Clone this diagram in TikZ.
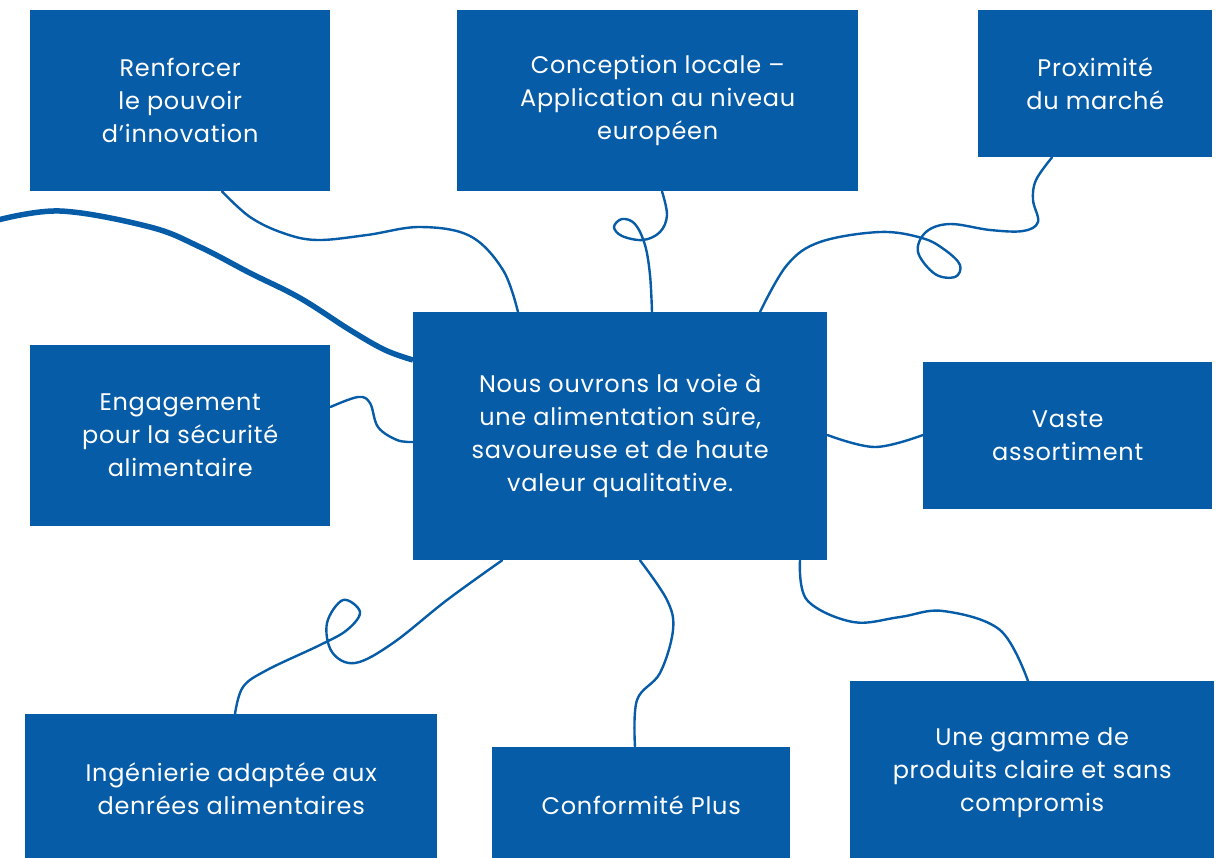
\documentclass[tikz,border=0pt]{standalone}
\usepackage{fontspec}
\setmainfont{Poppins}[LetterSpace=3]
\definecolor{brand}{RGB}{7,92,168}
\begin{document}
\begin{tikzpicture}[x=1pt,y=-1pt,
  box/.style={fill=brand,text=white,anchor=north west,inner sep=0pt,align=center,
    font=\fontsize{24}{33}\selectfont},
  wire/.style={draw=brand,line width=2.4pt,line cap=round},
  thick wire/.style={draw=brand,line width=5.5pt}]
\useasboundingbox (0,0) rectangle (1223,857);
\clip (0,0) rectangle (1223,857);
\node[box,minimum width=300pt,minimum height=181pt] (b1) at (30,10) {Renforcer\\le pouvoir\\d’innovation};
\node[box,minimum width=401pt,minimum height=181pt] (b2) at (457,10) {Conception locale –\\Application au niveau\\européen};
\node[box,minimum width=234pt,minimum height=147pt] (b3) at (978,10) {Proximité\\du marché};
\node[box,minimum width=414pt,minimum height=248pt] (c) at (413,312) {Nous ouvrons la voie à\\une alimentation sûre,\\savoureuse et de haute\\valeur qualitative.};
\node[box,minimum width=300pt,minimum height=181pt] (b5) at (30,345) {Engagement\\pour la sécurité\\alimentaire};
\node[box,minimum width=289pt,minimum height=147pt] (b6) at (923,362) {Vaste\\assortiment};
\node[box,minimum width=412pt,minimum height=150pt] (b7) at (25,714) {Ingénierie adaptée aux\\denrées alimentaires};
\node[box,minimum width=298pt,minimum height=116pt] (b8) at (492,747) {Conformité Plus};
\node[box,minimum width=364pt,minimum height=184pt] (b9) at (850,681) {Une gamme de\\produits claire et sans\\compromis};
\coordinate (lt) at (-6,221);
% thick wave
\draw[thick wire] plot[smooth,tension=0.6] coordinates {(lt) (60,211) (150,227) (200,247) (250,273) (300,298) (350,330) (385,350) ([yshift=-48pt]c.north west)};
% b1 - c
\draw[wire] plot[smooth,tension=0.6] coordinates {([xshift=192pt]b1.south west) (250,217) (283,233) (317,240) (367,235) (420,227) (470,236) (503,270) ([xshift=105pt]c.north west)};
% b2 - c
\draw[wire] plot[smooth,tension=0.6] coordinates {([xshift=205pt]b2.south west) (667,215) (660,232) (643,240) (622,236) (614,227) (622,219) (635,224) (645,245) (650,275) ([xshift=239pt]c.north west)};
% b3 - c
\draw[wire] plot[smooth,tension=0.6] coordinates {([xshift=74pt]b3.south west) (1036,180) (1033,200) (1038,222) (1023,231) (990,230) (950,224) (926,232) (918,252) (935,274) (955,277) (960,265) (945,250) (922,238) (880,232) (820,242) (787,265) ([xshift=347pt]c.north west)};
% b5 - c
\draw[wire] plot[smooth,tension=0.6] coordinates {([yshift=-62pt]b5.north east) (358,397) (370,403) (378,427) (397,440) ([yshift=-130pt]c.north west)};
% c - b6
\draw[wire] plot[smooth,tension=0.6] coordinates {([yshift=-123pt]c.north east) (875,447) ([yshift=-73pt]b6.north west)};
% c - b7
\draw[wire] plot[smooth,tension=0.6] coordinates {([xshift=89pt]c.south west) (447,600) (393,643) (355,663) (332,652) (327,623) (343,600) (360,612) (347,630) (320,645) (267,670) (243,687) ([xshift=210pt]b7.north west)};
% c - b8
\draw[wire] plot[smooth,tension=0.6] coordinates {([xshift=227pt]c.south west) (667,600) (673,630) (660,673) (637,700) ([xshift=143pt]b8.north west)};
% c - b9
\draw[wire] plot[smooth,tension=0.6] coordinates {([xshift=387pt]c.south west) (807,600) (853,622) (900,617) (943,611) (1000,630) ([xshift=178pt]b9.north west)};
\end{tikzpicture}
\end{document}
